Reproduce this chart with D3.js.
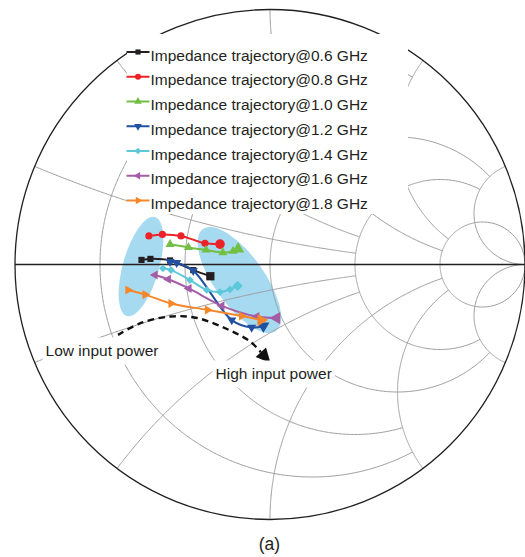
<!DOCTYPE html>
<html lang="en">
<head>
<meta charset="utf-8">
<title>Impedance trajectories on Smith chart</title>
<script src="https://d3js.org/d3.v7.min.js"></script>
<style>
  body { margin: 0; background: #fff; }
  svg { display: block; font-family: "Liberation Sans", Arial, Helvetica, sans-serif; }
  .grid { fill: none; stroke: #9c9c9c; stroke-width: 1; }
  .frame { fill: none; stroke: #231f20; stroke-width: 1.3; }
  .label { font-size: 15.5px; fill: #231f20; }
  .traj { fill: none; stroke-width: 2; }
</style>
</head>
<body>
<svg id="chart" width="525" height="557"></svg>
<script>
// legend / series
const freqs = ["0.6", "0.8", "1.0", "1.2", "1.4", "1.6", "1.8"];
const colors = ["#231f20", "#ed2227", "#72bf44", "#2251a1", "#5dc8da", "#a45ca7", "#f5862a"];
const shapes = ["square", "circle", "up", "down", "diamond", "left", "right"];

// reflection coefficient points [re, im]
const traj06 = [[-0.504, 0.018], [-0.469, 0.022], [-0.392, 0.016], [-0.301, -0.022], [-0.234, -0.046]];
const traj08 = [[-0.475, 0.112], [-0.422, 0.118], [-0.349, 0.112], [-0.255, 0.083], [-0.196, 0.080]];
const traj10 = [[-0.392, 0.079], [-0.320, 0.067], [-0.251, 0.057], [-0.185, 0.047], [-0.145, 0.052], [-0.125, 0.061]];
const traj12 = [[-0.392, 0.011], [-0.366, 0.007], [-0.301, -0.024], [-0.150, -0.218], [-0.072, -0.247], [-0.026, -0.241]];
const traj14 = [[-0.420, -0.015], [-0.388, -0.022], [-0.314, -0.061], [-0.248, -0.100], [-0.196, -0.108], [-0.157, -0.098], [-0.127, -0.084]];
const traj16 = [[-0.451, -0.041], [-0.399, -0.058], [-0.318, -0.094], [-0.189, -0.162], [-0.052, -0.204], [0.026, -0.210]];
const traj18 = [[-0.557, -0.100], [-0.490, -0.118], [-0.388, -0.153], [-0.245, -0.178], [-0.111, -0.202], [-0.035, -0.218]];
const trajectories = [traj06, traj08, traj10, traj12, traj14, traj16, traj18];

// highlighted regions (centre, semi axes in gamma units, tilt in degrees)
const regionCentres = [[-0.506, -0.008], [-0.120, -0.061]];
const regionAxes = [[0.202, 0.071], [0.246, 0.098]];
const regionTilt = [-74.2, 54.4];

// low -> high power arrow
const arrowPath = [[-0.596, -0.276], [-0.510, -0.231], [-0.392, -0.204], [-0.286, -0.210], [-0.169, -0.253], [-0.078, -0.302], [-0.036, -0.344]];
const arrowTip = [0.002, -0.386];

// smith chart grid: resistance circles / reactance arcs and where they stop
const rValues = [0.2, 0.5, 1, 2, 5];
const rLimits = [2, 2, 5, 5, Infinity];   // max |x| drawn
const xValues = [0.2, 0.5, 1, 2, 5];
const xLimits = [2, 2, 5, 5, Infinity];   // max r drawn

const svg = d3.select("#chart");

const xScale = d3.scaleLinear().domain([-1, 1]).range([15, 525]);
const yScale = d3.scaleLinear().domain([-1, 1]).range([519.5, 9.5]);

const line = d3.line().x(d => xScale(d[0])).y(d => yScale(d[1]));

function gamma(r, x) {
  const d = (r + 1) * (r + 1) + x * x;
  return [(r * r + x * x - 1) / d, 2 * x / d];
}

// ellipses first, grid goes over them
svg.selectAll("ellipse")
  .data(regionCentres)
  .enter()
  .append("ellipse")
  .attr("cx", d => xScale(d[0]))
  .attr("cy", d => yScale(d[1]))
  .attr("rx", (d, i) => xScale(regionAxes[i][0]) - xScale(0))
  .attr("ry", (d, i) => xScale(regionAxes[i][1]) - xScale(0))
  .attr("transform", (d, i) => "rotate(" + regionTilt[i] + "," + xScale(d[0]) + "," + yScale(d[1]) + ")")
  .attr("fill", "#a6daf1");

const grid = svg.append("g");

rValues.forEach((r, i) => {
  const umax = Math.atan(rLimits[i]);
  const pts = d3.range(-300, 301).map(k => gamma(r, Math.tan(umax * k / 300)));
  grid.append("path").attr("class", "grid").attr("d", line(pts));
});

xValues.forEach((x, i) => {
  const umax = Math.atan(xLimits[i]);
  [1, -1].forEach(s => {
    const pts = d3.range(0, 301).map(k => gamma(Math.tan(umax * k / 300), s * x));
    grid.append("path").attr("class", "grid").attr("d", line(pts));
  });
});

// outer circle and real axis
svg.append("circle")
  .attr("class", "frame")
  .attr("cx", xScale(0))
  .attr("cy", yScale(0))
  .attr("r", xScale(1) - xScale(0));

svg.append("line")
  .attr("class", "frame")
  .attr("x1", xScale(-1)).attr("y1", yScale(0))
  .attr("x2", xScale(1)).attr("y2", yScale(0));

// legend background hides the grid
svg.append("rect")
  .attr("x", 127).attr("y", 34)
  .attr("width", 281).attr("height", 180)
  .attr("fill", "#fff");

function symbolFor(shape, size) {
  const type = {square: d3.symbolSquare, circle: d3.symbolCircle, diamond: d3.symbolSquare}[shape] || d3.symbolTriangle;
  return d3.symbol().type(type).size(size)();
}
const rotations = {square: 0, circle: 0, up: 0, down: 180, diamond: 45, left: -90, right: 90};
const baseSize = {square: 38, circle: 40, up: 36, down: 36, diamond: 30, left: 36, right: 36};

// trajectories
const smooth = d3.line().x(d => xScale(d[0])).y(d => yScale(d[1])).curve(d3.curveCatmullRom.alpha(0.5));

trajectories.forEach((pts, i) => {
  const g = svg.append("g");
  g.append("path")
    .attr("class", "traj")
    .attr("stroke", colors[i])
    .attr("d", smooth(pts));
  g.selectAll("path.mk")
    .data(pts)
    .enter()
    .append("path")
    .attr("class", "mk")
    .attr("fill", colors[i])
    .attr("d", (d, k) => symbolFor(shapes[i], baseSize[shapes[i]] * (k === pts.length - 1 ? 1.8 : 1)))
    .attr("transform", d => "translate(" + xScale(d[0]) + "," + yScale(d[1]) + ") rotate(" + rotations[shapes[i]] + ")");
});

// dashed arrow
svg.append("path")
  .attr("d", smooth(arrowPath))
  .attr("fill", "none")
  .attr("stroke", "#111")
  .attr("stroke-width", 2.4)
  .attr("stroke-dasharray", "6.5,4.5");

const base = arrowPath[arrowPath.length - 1];
const bx = xScale(base[0]), by = yScale(base[1]);
const tx = xScale(arrowTip[0]), ty = yScale(arrowTip[1]);
const len = Math.hypot(tx - bx, ty - by);
const nx = -(ty - by) / len, ny = (tx - bx) / len;
const hw = 7;
svg.append("path")
  .attr("d", "M" + tx + "," + ty + "L" + (bx + nx * hw) + "," + (by + ny * hw) + "L" + (bx - nx * hw) + "," + (by - ny * hw) + "Z")
  .attr("fill", "#111");

// legend
const legend = svg.append("g");
freqs.forEach((f, i) => {
  const y = 52 + i * 24.75;
  legend.append("line")
    .attr("x1", 126.5).attr("x2", 149.5)
    .attr("y1", y).attr("y2", y)
    .attr("stroke", colors[i]).attr("stroke-width", 2);
  legend.append("path")
    .attr("d", symbolFor(shapes[i], baseSize[shapes[i]] * 0.7))
    .attr("transform", "translate(138," + y + ") rotate(" + rotations[shapes[i]] + ")")
    .attr("fill", colors[i]);
  legend.append("text")
    .attr("class", "label")
    .attr("x", 150.5)
    .attr("y", y + 8.7)
    .text("Impedance trajectory@" + f + " GHz");
});

// power labels with white backing
function boxedLabel(txt, x, y) {
  const g = svg.append("g");
  const rect = g.append("rect").attr("fill", "#fff");
  const t = g.append("text").attr("class", "label").attr("x", x).attr("y", y).text(txt);
  const b = t.node().getBBox();
  rect.attr("x", b.x - 3).attr("y", b.y - 4)
    .attr("width", b.width + 6).attr("height", b.height + 10);
}
boxedLabel("Low input power", 45.6, 355.5);
boxedLabel("High input power", 215.5, 378.5);

svg.append("text")
  .attr("x", 269.5)
  .attr("y", 549.5)
  .attr("text-anchor", "middle")
  .attr("font-size", "17.5px")
  .attr("fill", "#231f20")
  .text("(a)");
</script>
</body>
</html>
